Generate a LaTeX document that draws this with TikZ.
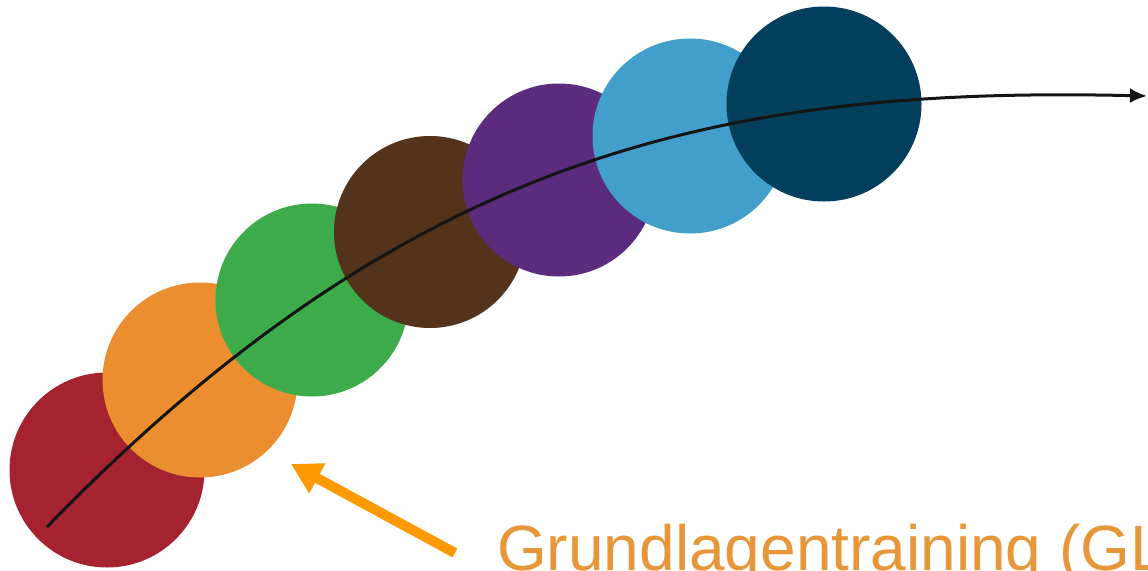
\documentclass[tikz,border=0pt]{standalone}
\usepackage{fontspec}
\setmainfont{Liberation Sans}
\usetikzlibrary{arrows.meta}
\definecolor{cRed}{HTML}{A52230}
\definecolor{cOrange}{HTML}{EA8E30}
\definecolor{cGreen}{HTML}{3DAB4A}
\definecolor{cBrown}{HTML}{54331B}
\definecolor{cPurple}{HTML}{5B2B7D}
\definecolor{cLBlue}{HTML}{429FCC}
\definecolor{cDBlue}{HTML}{023F5C}
\definecolor{cText}{HTML}{E8963A}
\definecolor{cArrow}{HTML}{FF9900}
\definecolor{cLine}{HTML}{141414}
\begin{document}
\begin{tikzpicture}[x=1pt,y=-1pt,
  disc/.style={circle,minimum size=195pt,inner sep=0pt,draw=none},
  flowline/.style={line width=3pt,draw=cLine,-{Latex[length=17pt,width=15pt]}},
  pointer/.style={line width=10pt,draw=cArrow,-{Triangle[length=30pt,width=32pt]}}]
\clip (0,0) rectangle (1148,570);
\fill[white] (0,0) rectangle (1148,570);
\node[disc,fill=cRed]    (c1) at (107,470) {};
\node[disc,fill=cOrange] (c2) at (200,380) {};
\node[disc,fill=cGreen,minimum size=193pt]  (c3) at (312,300) {};
\node[disc,fill=cBrown,minimum size=192pt]  (c4) at (430,232) {};
\node[disc,fill=cPurple,minimum size=193pt] (c5) at (559,180) {};
\node[disc,fill=cLBlue]  (c6) at (690,136) {};
\node[disc,fill=cDBlue]  (c7) at (824,104) {};
\coordinate (s) at (47,527);
\coordinate (e) at (1147,96);
\draw[flowline] (s) .. controls (408,155) and (720,86) .. (e);
\node[anchor=base west,inner sep=0pt,font=\fontsize{64}{70}\selectfont,text=cText] (lbl) at (497,570) {Grundlagentraining (GL};
\coordinate (at) at (455,553);
\coordinate (ah) at (291,464);
\draw[pointer] (at) -- (ah);
\end{tikzpicture}
\end{document}
